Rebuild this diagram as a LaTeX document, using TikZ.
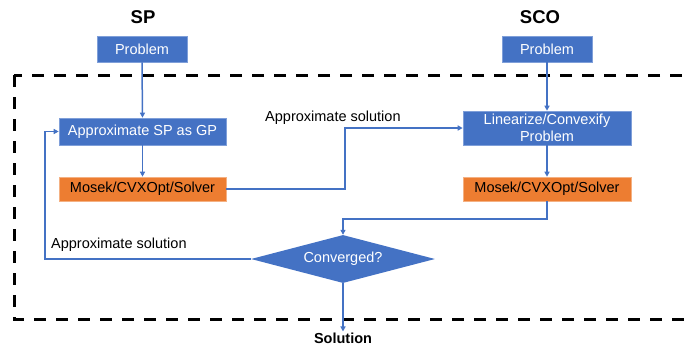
\documentclass[tikz,border=0pt]{standalone}
\usepackage{fontspec}
\setmainfont{Liberation Sans}
\usetikzlibrary{shapes.geometric,arrows.meta}
\definecolor{boxblue}{HTML}{4472C4}
\definecolor{boxedge}{HTML}{7F9FD9}
\definecolor{boxorange}{HTML}{ED7D31}
\definecolor{orangeedge}{HTML}{F4B183}
\tikzset{
  blockbox/.style={draw=boxedge, line width=0.6pt, fill=boxblue, text=white,
    font=\fontsize{14.5}{17}\selectfont, inner sep=0pt, align=center},
  solverbox/.style={draw=orangeedge, line width=0.6pt, fill=boxorange, text=black,
    font=\fontsize{14.5}{17}\selectfont, inner sep=0pt, minimum width=167pt, minimum height=24pt},
  decision/.style={diamond, fill=boxblue, text=white, inner sep=0pt,
    font=\fontsize{14.5}{17}\selectfont, minimum width=184pt, minimum height=48pt, aspect=3.8},
  heading/.style={font=\fontsize{18.5}{22}\selectfont\bfseries},
  note/.style={font=\fontsize{14.5}{17}\selectfont, inner sep=0pt},
  flow/.style={draw=boxblue, line width=1.5pt, -{Triangle[length=5pt,width=5pt]}},
  frame/.style={draw=black, line width=3pt, dash pattern=on 12pt off 10pt}
}
\begin{document}
\begin{tikzpicture}[x=1pt,y=-1pt]
  \useasboundingbox (0,0) rectangle (692,351);
  \begin{scope}
    \clip (0,0) rectangle (692,351);
    \draw[frame] (14,75) rectangle (720,319);
  \end{scope}

  % column headings
  \node[heading] (hsp) at (143,17) {SP};
  \node[heading] (hsco) at (540,17) {SCO};

  % SP column
  \node[blockbox, minimum width=90pt, minimum height=26pt] (pa) at (142,49) {Problem};
  \node[blockbox, minimum width=167pt, minimum height=27pt] (approx) at (142.5,131.5) {Approximate SP as GP};
  \node[solverbox] (sola) at (142.5,189) {Mosek/CVXOpt/Solver};

  % SCO column
  \node[blockbox, minimum width=90pt, minimum height=26pt] (pb) at (547,49) {Problem};
  \node[blockbox, minimum width=168pt, minimum height=34pt] (lin) at (547,128) {Linearize/Convexify\\Problem};
  \node[solverbox, minimum width=168pt] (solb) at (547,189) {Mosek/CVXOpt/Solver};

  % convergence test and result
  \node[decision] (conv) at (343,259) {Converged?};
  \node[font=\fontsize{14.5}{17}\selectfont\bfseries, inner sep=1pt] (result) at (343,338) {Solution};

  % routing points
  \coordinate (jx) at (345,0);
  \coordinate (jy) at (0,219);
  \coordinate (jl) at (45,0);

  % connectors
  \draw[flow] (pa.south) -- (approx.north);
  \draw[flow] (approx.south) -- (sola.north);
  \draw[flow] (sola.east) -- (sola.east -| jx) -- (lin.west -| jx) -- (lin.west);
  \draw[flow] (pb.south) -- (lin.north);
  \draw[flow] (lin.south) -- (solb.north);
  \draw[flow] (solb.south) -- (solb.south |- jy) -- (conv.north |- jy) -- (conv.north);
  \draw[flow] (conv.west) -- (conv.west -| jl) -- (approx.west -| jl) -- (approx.west);
  \draw[flow] (conv.south) -- (result.north);

  % edge labels
  \node[note, anchor=west] (lab1) at (265,118) {Approximate solution};
  \node[note, anchor=west] (lab2) at (51,245) {Approximate solution};
\end{tikzpicture}
\end{document}
